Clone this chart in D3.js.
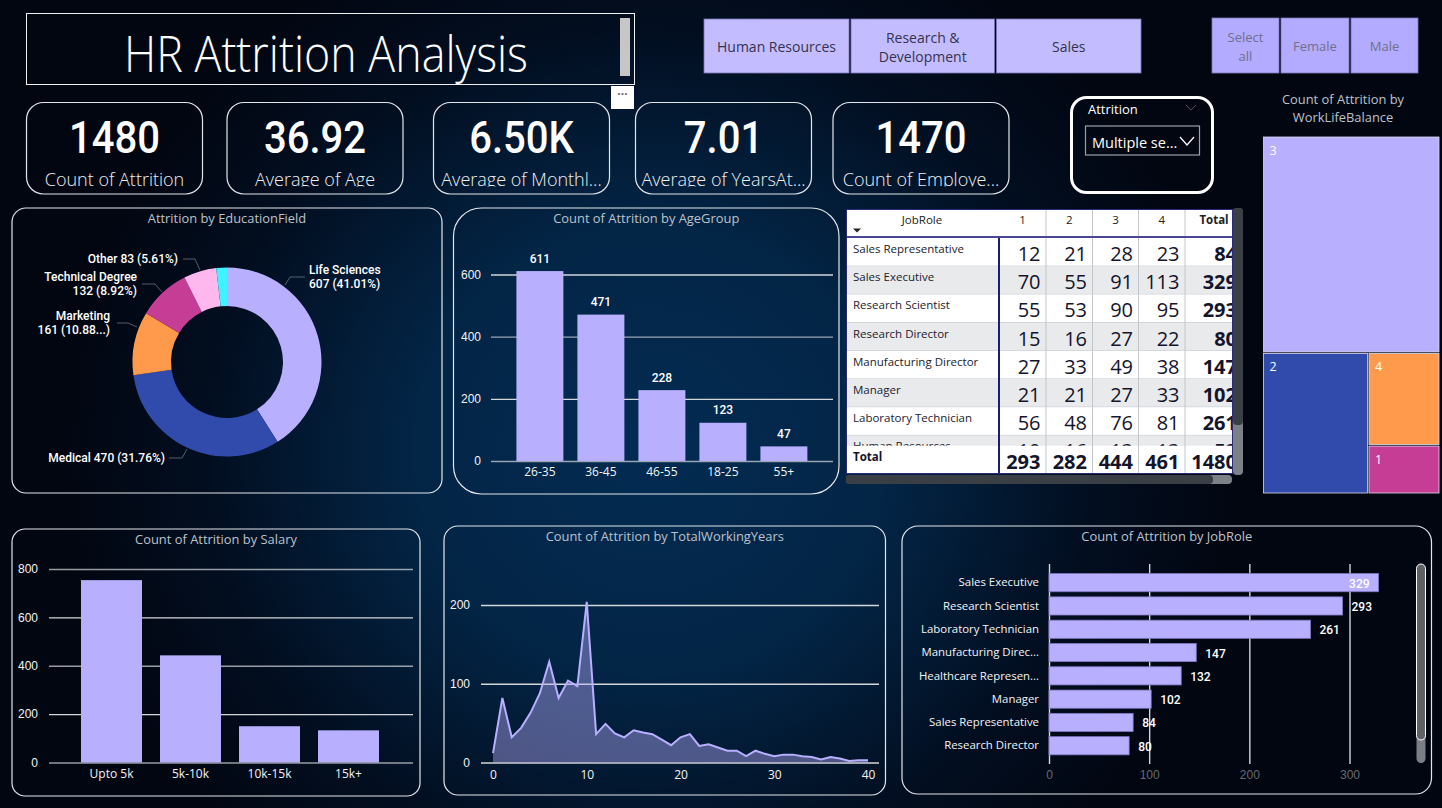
<!DOCTYPE html>
<html>
<head>
<meta charset="utf-8">
<title>HR Attrition Analysis</title>
<script src="https://cdn.jsdelivr.net/npm/d3@7"></script>
<style>
  html, body { margin: 0; padding: 0; width: 1442px; height: 808px; overflow: hidden; background: #020611; }
  svg { display: block; font-family: "Open Sans", sans-serif; }
  .din { font-family: Roboto, sans-serif; font-weight: 500; }
  .panel { fill: none; stroke: #e4e6ea; stroke-width: 1.2; }
  .vtitle { fill: #bcc3cb; font-size: 12.9px; text-anchor: middle; }
  .axis text { fill: #f2f4f6; font-size: 12px; font-family: "Open Sans", sans-serif; }
  .axis .domain { display: none; }
  .grid line { stroke: #d4d6da; stroke-width: 1.4; }
  .grid .domain { display: none; }
  .grid text { fill: #f2f4f6; font-size: 12px; }
</style>
</head>
<body>
<svg id="chart" width="1442" height="808" viewBox="0 0 1442 808"></svg>
<script>
// KPI cards
const kpiValues = ["1480", "36.92", "6.50K", "7.01", "1470"]
const kpiLabels = ["Count of Attrition", "Average of Age", "Average of Monthl...", "Average of YearsAt...", "Count of Employe..."]

// Slicers
const departments = [["Human Resources"], ["Research &", "Development"], ["Sales"]]
const genders = [["Select", "all"], ["Female"], ["Male"]]

// Donut
const eduFields = ["Life Sciences", "Medical", "Marketing", "Technical Degree", "Other", "Human Resources"]
const eduCounts = [607, 470, 161, 132, 83, 27]
const eduColors = ["#b8afff", "#304bab", "#ff9a4c", "#c63d96", "#ffb8ee", "#3ef3ff"]

// Age bars
const ageGroups = ["26-35", "36-45", "46-55", "18-25", "55+"]
const ageCounts = [611, 471, 228, 123, 47]

// Salary bars
const salaryBands = ["Upto 5k", "5k-10k", "10k-15k", "15k+"]
const salaryCounts = [754, 443, 150, 133]

// Total working years, index is the year
const workingYearCounts = [12, 82, 32, 44, 63, 88, 128, 82, 104, 97, 204, 36, 49, 37, 32, 41, 38, 36, 29, 22,
  32, 36, 21, 23, 19, 15, 15, 8, 15, 11, 8, 10, 10, 8, 7, 4, 7, 5, 2, 3, 3]

// Job role bars
const jobRoles = ["Sales Executive", "Research Scientist", "Laboratory Technician", "Manufacturing Direc...",
  "Healthcare Represen...", "Manager", "Sales Representative", "Research Director"]
const jobCounts = [329, 293, 261, 147, 132, 102, 84, 80]

// Matrix
const matrixColumns = ["1", "2", "3", "4", "Total"]
const matrixRoles = ["Sales Representative", "Sales Executive", "Research Scientist", "Research Director",
  "Manufacturing Director", "Manager", "Laboratory Technician", "Human Resources"]
const matrixValues = [
  [12, 21, 28, 23, 84],
  [70, 55, 91, 113, 329],
  [55, 53, 90, 95, 293],
  [15, 16, 27, 22, 80],
  [27, 33, 49, 38, 147],
  [21, 21, 27, 33, 102],
  [56, 48, 76, 81, 261],
  [10, 16, 13, 13, 52]
]
const matrixTotals = [293, 282, 444, 461, 1480]

// Treemap
const balanceLevels = ["3", "2", "4", "1"]
const balanceCounts = [896, 348, 155, 81]
const balanceColors = ["#b8afff", "#304bab", "#ff9a4c", "#c63d96"]

const BAR = "#b8afff"
const svg = d3.select("#chart")
const defs = svg.append("defs")

// background: nearly black edges with a navy glow in the middle
const glow = defs.append("radialGradient").attr("id", "glow")
  .attr("gradientUnits", "userSpaceOnUse")
  .attr("cx", 650).attr("cy", 450).attr("r", 590)
  .attr("gradientTransform", "translate(650 450) scale(1 0.95) translate(-650 -450)")
glow.append("stop").attr("offset", "0%").attr("stop-color", "#032b52")
glow.append("stop").attr("offset", "40%").attr("stop-color", "#032546")
glow.append("stop").attr("offset", "75%").attr("stop-color", "#020e20")
glow.append("stop").attr("offset", "100%").attr("stop-color", "#020611")
svg.append("rect").attr("width", 1442).attr("height", 808).attr("fill", "#020611")
svg.append("rect").attr("width", 1442).attr("height", 808).attr("fill", "url(#glow)")

function panel(x, y, w, h, r, title, titleY) {
  svg.append("rect").attr("class", "panel")
    .attr("x", x).attr("y", y).attr("width", w).attr("height", h).attr("rx", r)
  if (title) svg.append("text").attr("class", "vtitle").attr("x", x + w / 2).attr("y", titleY).text(title)
}

// ---- header ----
svg.append("rect").attr("x", 26.5).attr("y", 13.5).attr("width", 608).attr("height", 71)
  .attr("fill", "none").attr("stroke", "#f0f0f0")
svg.append("text").attr("x", 326).attr("y", 72).attr("text-anchor", "middle")
  .attr("fill", "#fff").attr("font-size", 50).attr("font-weight", 300)
  .attr("textLength", 404).attr("lengthAdjust", "spacingAndGlyphs")
  .text("HR Attrition Analysis")
svg.append("rect").attr("x", 620).attr("y", 18).attr("width", 10).attr("height", 58).attr("fill", "#c6c6c6")
svg.append("rect").attr("x", 611).attr("y", 86).attr("width", 23).attr("height", 23).attr("fill", "#fff")
svg.append("text").attr("x", 622.5).attr("y", 98).attr("text-anchor", "middle").attr("fill", "#666")
  .attr("font-size", 12).attr("font-weight", 700).text("···")

function slicer(labels, xs, widths, y, h, fill, textFill, size, dy) {
  labels.forEach((lines, i) => {
    svg.append("rect").attr("x", xs[i]).attr("y", y).attr("width", widths[i]).attr("height", h)
      .attr("fill", fill).attr("stroke", "#7b76b8").attr("stroke-width", 0.8)
    const cy = y + h / 2 + dy - (lines.length - 1) * 9.5
    lines.forEach((line, j) => {
      svg.append("text").attr("x", xs[i] + widths[i] / 2).attr("y", cy + j * 19)
        .attr("text-anchor", "middle").attr("fill", textFill).attr("font-size", size).text(line)
    })
  })
}
slicer(departments, [704, 851, 996.5], [145, 143.5, 144.5], 19, 54, "#c3bdff", "#35324f", 14, 6)
slicer(genders, [1212, 1281, 1351], [67, 68, 67], 18, 55, "#b3abff", "#6f6f8c", 13, 5.5)

// ---- KPI cards ----
const cardX = [26.5, 227, 433.5, 635.5, 833]
kpiValues.forEach((v, i) => {
  panel(cardX[i], 102.5, 176, 91.5, 17)
  const cx = cardX[i] + 88
  const big = svg.append("text").attr("class", "din").attr("x", cx).attr("y", 153).attr("text-anchor", "middle")
    .attr("fill", "#fff").attr("font-size", 44).text(v)
  // the card numbers are a condensed face in the reference
  big.attr("textLength", big.node().getComputedTextLength() * 0.91).attr("lengthAdjust", "spacingAndGlyphs")
  defs.append("clipPath").attr("id", "kpi" + i).append("rect")
    .attr("x", cardX[i]).attr("y", 160).attr("width", 176).attr("height", 26.5)
  svg.append("g").attr("clip-path", `url(#kpi${i})`).append("text")
    .attr("x", cx).attr("y", 186).attr("text-anchor", "middle").attr("fill", "#eef0f2")
    .attr("font-size", 18).attr("font-weight", 300).text(kpiLabels[i])
})

// attrition dropdown
svg.append("rect").attr("x", 1071.5).attr("y", 97.5).attr("width", 141).attr("height", 95).attr("rx", 15)
  .attr("fill", "none").attr("stroke", "#fff").attr("stroke-width", 3)
svg.append("text").attr("x", 1088).attr("y", 114).attr("fill", "#fff").attr("font-size", 13).text("Attrition")
svg.append("path").attr("d", "M1186 105l5 5l5-5").attr("fill", "none").attr("stroke", "#4a5260")
svg.append("rect").attr("x", 1085.5).attr("y", 126).attr("width", 114).attr("height", 29)
  .attr("fill", "none").attr("stroke", "#9aa0a6").attr("stroke-width", 1.2)
svg.append("text").attr("x", 1092).attr("y", 148).attr("fill", "#fff").attr("font-size", 14.5).text("Multiple se...")
svg.append("path").attr("d", "M1180 137l7 8l7-8").attr("fill", "none").attr("stroke", "#fff").attr("stroke-width", 1.2)

// ---- donut ----
panel(12, 208, 430, 285, 14, "Attrition by EducationField", 223)
const donut = svg.append("g").attr("transform", "translate(227,362)")
const pie = d3.pie().sort(null)
const arc = d3.arc().innerRadius(56).outerRadius(94.5)
donut.selectAll("path").data(pie(eduCounts)).join("path")
  .attr("d", arc).attr("fill", (d, i) => eduColors[i])

// label layout: [anchor x, anchor, first line y, lines, leader points]
const fmtPct = v => (v / d3.sum(eduCounts) * 100).toFixed(2) + "%"
const eduLabels = [
  { i: 0, x: 309, anchor: "start", y: 274, lines: [eduFields[0], `${eduCounts[0]} (${fmtPct(eduCounts[0])})`], leader: [[285, 285], [290, 277], [305, 277]] },
  { i: 1, x: 165, anchor: "end", y: 462, lines: [`${eduFields[1]} ${eduCounts[1]} (${fmtPct(eduCounts[1])})`], leader: [[169, 458], [182, 458], [187, 449]] },
  { i: 2, x: 110, anchor: "end", y: 320, lines: [eduFields[2], `${eduCounts[2]} (10.88...)`], leader: [[117, 323], [128, 323], [137, 327]] },
  { i: 3, x: 137, anchor: "end", y: 281, lines: [eduFields[3], `${eduCounts[3]} (${fmtPct(eduCounts[3])})`], leader: [[142, 284], [155, 284], [162, 292]] },
  { i: 4, x: 178, anchor: "end", y: 263, lines: [`${eduFields[4]} ${eduCounts[4]} (${fmtPct(eduCounts[4])})`], leader: [[183, 259], [195, 259], [200, 270]] }
]
eduLabels.forEach(l => {
  svg.append("path").attr("d", d3.line()(l.leader)).attr("fill", "none").attr("stroke", "#5f6772").attr("stroke-width", 0.9)
  l.lines.forEach((t, j) => {
    svg.append("text").attr("class", "din").attr("x", l.x).attr("y", l.y + j * 13.7)
      .attr("text-anchor", l.anchor).attr("fill", "#fff").attr("font-size", 12).text(t)
  })
})

// ---- shared column chart ----
function columnChart(opts) {
  const y = d3.scaleLinear().domain(opts.yDomain).range([opts.y0, opts.y1])
  const x = d3.scaleBand().domain(opts.cats).range(opts.xRange).paddingInner(opts.pad).paddingOuter(opts.pad / 2)
  svg.append("g").attr("class", "grid").attr("transform", `translate(${opts.gridX0},0)`)
    .call(d3.axisLeft(y).tickValues(opts.ticks).tickSize(-(opts.gridX1 - opts.gridX0)).tickPadding(opts.tickPad))
    .call(g => g.selectAll(".tick line").attr("stroke-opacity", (d, i) => i % 2 ? 1 : 0.72))
  svg.selectAll(null).data(opts.values).join("rect")
    .attr("x", (d, i) => x(opts.cats[i])).attr("width", x.bandwidth())
    .attr("y", d => y(d)).attr("height", d => opts.y0 - y(d))
    .attr("fill", BAR)
  svg.append("g").attr("class", "axis").attr("transform", `translate(0,${opts.y0})`)
    .call(d3.axisBottom(x).tickSize(0).tickPadding(opts.catPad))
  return { x, y }
}

// ---- age group ----
panel(453.5, 208, 385.5, 286, 28, "Count of Attrition by AgeGroup", 223)
const age = columnChart({
  cats: ageGroups, values: ageCounts, yDomain: [0, 600], y0: 461, y1: 274.5,
  xRange: [509.4, 814.4], pad: 0.23, ticks: [0, 200, 400, 600],
  gridX0: 491, gridX1: 833, tickPad: 10, catPad: 6
})
svg.selectAll(null).data(ageCounts).join("text").attr("class", "din")
  .attr("x", (d, i) => age.x(ageGroups[i]) + age.x.bandwidth() / 2)
  .attr("y", d => age.y(d) - 8.5)
  .attr("text-anchor", "middle").attr("fill", "#fff").attr("font-size", 12).text(d => d)

// ---- salary ----
panel(12, 529, 408, 267, 13, "Count of Attrition by Salary", 544)
columnChart({
  cats: salaryBands, values: salaryCounts, yDomain: [0, 800], y0: 762.5, y1: 569,
  xRange: [72, 388], pad: 0.228, ticks: [0, 200, 400, 600, 800],
  gridX0: 49, gridX1: 413, tickPad: 11, catPad: 7
})

// ---- total working years ----
panel(444, 526, 441.5, 269, 14, "Count of Attrition by TotalWorkingYears", 541)
const twyX = d3.scaleLinear().domain([0, 40]).range([493, 868])
const twyY = d3.scaleLinear().domain([0, 200]).range([762.5, 605])
svg.append("g").attr("class", "grid").attr("transform", "translate(481,0)")
  .call(d3.axisLeft(twyY).tickValues([0, 100, 200]).tickSize(-398).tickPadding(11))
svg.append("path").datum(workingYearCounts)
  .attr("d", d3.area().x((d, i) => twyX(i)).y0(twyY(0)).y1(d => twyY(d)))
  .attr("fill", BAR).attr("fill-opacity", 0.42)
svg.append("path").datum(workingYearCounts)
  .attr("d", d3.line().x((d, i) => twyX(i)).y(d => twyY(d)))
  .attr("fill", "none").attr("stroke", BAR).attr("stroke-width", 2)
svg.append("g").attr("class", "axis").attr("transform", "translate(0,762.5)")
  .call(d3.axisBottom(twyX).tickValues([0, 10, 20, 30, 40]).tickSize(0).tickPadding(8))

// ---- job role ----
panel(902, 526, 529.5, 268, 16, "Count of Attrition by JobRole", 541)
const jobX = d3.scaleLinear().domain([0, 300]).range([1049, 1349.5])
const jobY = d3.scaleBand().domain(jobRoles).range([571, 757.4]).paddingInner(0.22).paddingOuter(0.11)
svg.append("g").attr("class", "grid").attr("transform", "translate(0,764)")
  .call(d3.axisBottom(jobX).tickValues([0, 100, 200, 300]).tickSize(-200).tickPadding(6))
  .call(g => g.selectAll("text").attr("fill", "#666c74").style("fill", "#666c74"))
svg.selectAll(null).data(jobCounts).join("rect")
  .attr("x", jobX(0)).attr("y", (d, i) => jobY(jobRoles[i]))
  .attr("width", d => jobX(d) - jobX(0)).attr("height", jobY.bandwidth())
  .attr("fill", BAR).attr("stroke", "#8079c4").attr("stroke-width", 0.8)
svg.append("g").attr("class", "axis").attr("transform", "translate(1049,0)")
  .call(d3.axisLeft(jobY).tickSize(0).tickPadding(10))
  .call(g => g.selectAll("text").style("font-size", "11.4px"))
svg.selectAll(null).data(jobCounts).join("text").attr("class", "din")
  .attr("x", d => d === d3.max(jobCounts) ? jobX(d) - 9 : jobX(d) + 9)
  .attr("y", (d, i) => jobY(jobRoles[i]) + jobY.bandwidth() / 2 + 5)
  .attr("text-anchor", d => d === d3.max(jobCounts) ? "end" : "start")
  .attr("fill", "#fff").attr("font-size", 12).text(d => d)
svg.append("rect").attr("x", 1416.5).attr("y", 564).attr("width", 9).attr("height", 199).attr("rx", 4.5).attr("fill", "#7b7f85")
svg.append("rect").attr("x", 1416.5).attr("y", 564).attr("width", 9).attr("height", 176).attr("rx", 4.5)
  .attr("fill", "#5f6165").attr("stroke", "#fff").attr("stroke-width", 1)

// ---- matrix ----
const colEdges = [999, 1046, 1092.5, 1138.5, 1185, 1233]
const rowTop = 238
const rowH = 28.2
const rowsBottom = 445.7
defs.append("clipPath").attr("id", "matrixClip").append("rect").attr("x", 846).attr("y", 209).attr("width", 387).attr("height", 265)
defs.append("clipPath").attr("id", "rowsClip").append("rect").attr("x", 846).attr("y", rowTop).attr("width", 387).attr("height", rowsBottom - rowTop)
const mx = svg.append("g").attr("clip-path", "url(#matrixClip)")
mx.append("rect").attr("x", 846).attr("y", 209).attr("width", 387).attr("height", 265).attr("fill", "#fff")
const rows = mx.append("g").attr("clip-path", "url(#rowsClip)")
matrixRoles.forEach((role, r) => {
  const top = rowTop + r * rowH
  rows.append("rect").attr("x", 846).attr("y", top).attr("width", 387).attr("height", rowH)
    .attr("fill", r % 2 ? "#e9eaec" : "#fff")
  rows.append("line").attr("x1", 846).attr("x2", 1233).attr("y1", top + rowH).attr("y2", top + rowH)
    .attr("stroke", "#bcc2ca").attr("stroke-width", 1)
  rows.append("text").attr("x", 853).attr("y", top + 15).attr("fill", "#1a1a2e").attr("font-size", 11.5).text(role)
  matrixValues[r].forEach((v, c) => {
    rows.append("text").attr("x", c < 4 ? colEdges[c + 1] - 5.5 : 1237).attr("y", top + 23)
      .attr("text-anchor", "end").attr("fill", "#14142b").attr("font-size", 20)
      .attr("font-weight", c === 4 ? 700 : 400).text(v)
  })
})
// header row
mx.append("text").attr("x", 922).attr("y", 224).attr("text-anchor", "middle").attr("fill", "#222").attr("font-size", 11.5).text("JobRole")
mx.append("path").attr("d", "M853 228.5h8l-4 4z").attr("fill", "#222")
matrixColumns.forEach((name, c) => {
  mx.append("text").attr("x", c < 4 ? (colEdges[c] + colEdges[c + 1]) / 2 : 1214).attr("y", 224)
    .attr("text-anchor", "middle").attr("fill", "#222").attr("font-size", 11.5)
    .attr("font-weight", c === 4 ? 700 : 400).text(name)
})
colEdges.slice(1, 5).forEach(x => {
  mx.append("line").attr("x1", x).attr("x2", x).attr("y1", 209).attr("y2", 474).attr("stroke", "#c2c7ce").attr("stroke-width", 1)
})
// totals row
mx.append("text").attr("x", 853).attr("y", 461).attr("fill", "#14142b").attr("font-size", 11.5).attr("font-weight", 700).text("Total")
matrixTotals.forEach((v, c) => {
  mx.append("text").attr("x", c < 4 ? colEdges[c + 1] - 5.5 : 1237).attr("y", 469)
    .attr("text-anchor", "end").attr("fill", "#14142b").attr("font-size", 20).attr("font-weight", 700).text(v)
})
mx.append("line").attr("x1", 846).attr("x2", 1233).attr("y1", 237).attr("y2", 237).attr("stroke", "#4b4796").attr("stroke-width", 2)
mx.append("line").attr("x1", 999).attr("x2", 999).attr("y1", 238).attr("y2", 474).attr("stroke", "#1f1c78").attr("stroke-width", 2)
mx.append("rect").attr("x", 846.5).attr("y", 209.5).attr("width", 386).attr("height", 264)
  .attr("fill", "none").attr("stroke", "#2b2a78").attr("stroke-width", 1)
// matrix scrollbars
svg.append("rect").attr("x", 1233).attr("y", 208).attr("width", 10).attr("height", 267).attr("rx", 4).attr("fill", "#7c8087")
svg.append("rect").attr("x", 1233).attr("y", 208).attr("width", 10).attr("height", 217).attr("rx", 4).attr("fill", "#3a3e45")
svg.append("rect").attr("x", 846).attr("y", 475).attr("width", 386).attr("height", 9).attr("rx", 4).attr("fill", "#7c8087")
svg.append("rect").attr("x", 846).attr("y", 475).attr("width", 367).attr("height", 9).attr("rx", 4).attr("fill", "#3a3e45")

// ---- treemap ----
svg.append("text").attr("class", "vtitle").attr("x", 1343).attr("y", 104).text("Count of Attrition by")
svg.append("text").attr("class", "vtitle").attr("x", 1343).attr("y", 122).text("WorkLifeBalance")
const tmRoot = d3.hierarchy({ children: balanceCounts.map((value, i) => ({ value, i })) })
  .sum(d => d.value || 0)
d3.treemap().tile(d3.treemapSquarify.ratio(1)).size([175.5, 356]).paddingInner(1.5).round(false)(tmRoot)
const tm = svg.append("g").attr("transform", "translate(1263.5,137)")
const tmCells = tm.selectAll("g").data(tmRoot.leaves()).join("g")
  .attr("transform", d => `translate(${d.x0},${d.y0})`)
tmCells.append("rect")
  .attr("width", d => d.x1 - d.x0).attr("height", d => d.y1 - d.y0)
  .attr("fill", d => balanceColors[d.data.i]).attr("stroke", "#dcdcf0").attr("stroke-width", 0.8)
tmCells.append("text").attr("x", 6).attr("y", 18).attr("fill", "#fff").attr("font-size", 12.5)
  .text(d => balanceLevels[d.data.i])
</script>
</body>
</html>
